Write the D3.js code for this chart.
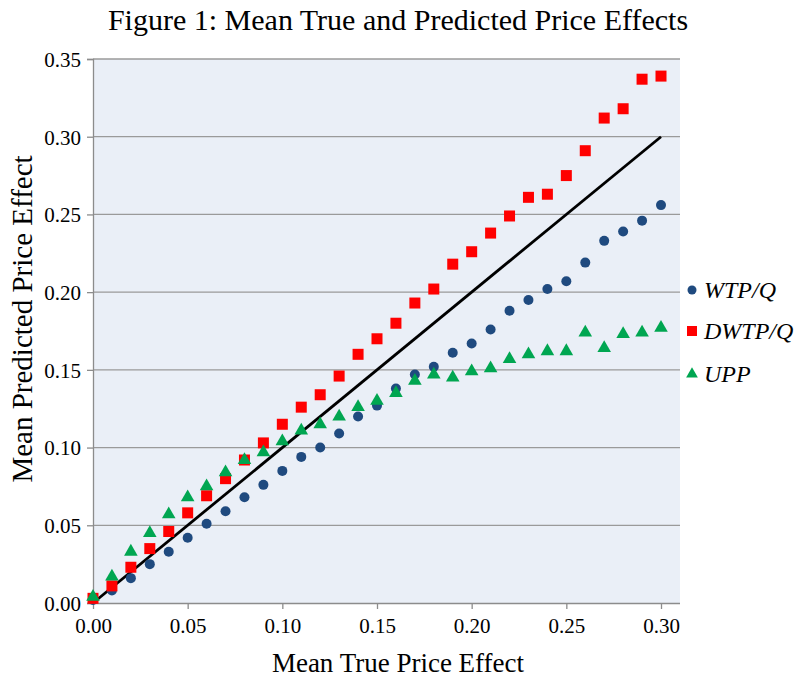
<!DOCTYPE html>
<html lang="en">
<head>
    <meta charset="UTF-8">
    <title>Figure 1: Mean True and Predicted Price Effects</title>
    <script src="https://d3js.org/d3.v7.min.js"></script>
    <style>
        body { margin: 0; background: #fff; }
        text { font-family: "Liberation Serif", "DejaVu Serif", serif; fill: #000; }
    </style>
</head>
<body>
    <svg width="798" height="681"></svg>

    <script>
        // Podaci procitani s grafa
        const trueEffect = [0.00, 0.01, 0.02, 0.03, 0.04, 0.05, 0.06, 0.07, 0.08, 0.09, 0.10,
            0.11, 0.12, 0.13, 0.14, 0.15, 0.16, 0.17, 0.18, 0.19, 0.20,
            0.21, 0.22, 0.23, 0.24, 0.25, 0.26, 0.27, 0.28, 0.29, 0.30];
        const wtpQ = [0.002, 0.008, 0.016, 0.025, 0.033, 0.042, 0.051, 0.059, 0.068, 0.076, 0.085,
            0.094, 0.100, 0.109, 0.120, 0.127, 0.138, 0.147, 0.152, 0.161, 0.167,
            0.176, 0.188, 0.195, 0.202, 0.207, 0.219, 0.233, 0.239, 0.246, 0.256];
        const dwtpQ = [0.003, 0.011, 0.023, 0.035, 0.046, 0.058, 0.069, 0.080, 0.092, 0.103, 0.115,
            0.126, 0.134, 0.146, 0.160, 0.170, 0.180, 0.193, 0.202, 0.218, 0.226,
            0.238, 0.249, 0.261, 0.263, 0.275, 0.291, 0.312, 0.318, 0.337, 0.339];
        const upp = [0.004, 0.017, 0.033, 0.045, 0.057, 0.068, 0.075, 0.084, 0.092, 0.097, 0.104,
            0.111, 0.115, 0.120, 0.126, 0.130, 0.135, 0.143, 0.147, 0.145, 0.149,
            0.151, 0.157, 0.160, 0.162, 0.162, 0.174, 0.164, 0.173, 0.174, 0.177];
        const xTicks = [0, 0.05, 0.10, 0.15, 0.20, 0.25, 0.30];
        const yTicks = [0, 0.05, 0.10, 0.15, 0.20, 0.25, 0.30, 0.35];
        const diagonal = [0, 0.30];

        const margin = { top: 59, right: 118, bottom: 78, left: 93 };
        const width = 798 - margin.left - margin.right;
        const height = 681 - margin.top - margin.bottom;

        const root = d3.select("svg");
        const svg = root.append("g")
            .attr("transform", `translate(${margin.left},${margin.top})`);

        // Skale
        const x = d3.scaleLinear().domain([0, 0.30]).range([0, 568]);
        const y = d3.scaleLinear().domain([0, 0.35]).range([height, 0]);

        // Pozadina
        svg.append("rect")
            .attr("width", width)
            .attr("height", height)
            .attr("fill", "#eaeff7");

        // Mreza
        svg.append("g")
            .selectAll("line")
            .data(yTicks.slice(1))
            .enter()
            .append("line")
            .attr("x1", 0)
            .attr("x2", width)
            .attr("y1", d => y(d))
            .attr("y2", d => y(d))
            .attr("stroke", "#9a9a9a")
            .attr("stroke-width", 1.3);

        // Osi
        const xAxis = svg.append("g")
            .attr("transform", `translate(0,${height})`)
            .call(d3.axisBottom(x).tickValues(xTicks).tickFormat(d3.format(".2f")).tickSize(6).tickPadding(9));
        xAxis.select(".domain").attr("d", `M0,0.5H${width}`);

        const yAxis = svg.append("g")
            .call(d3.axisLeft(y).tickValues(yTicks).tickFormat(d3.format(".2f")).tickSize(6).tickPadding(6));

        svg.selectAll(".domain").attr("stroke", "#8c8c8c").attr("stroke-width", 1.3);
        svg.selectAll(".tick line").attr("stroke", "#8c8c8c").attr("stroke-width", 1.3);
        svg.selectAll(".tick text")
            .style("font-family", "'Liberation Serif', serif")
            .style("font-size", "21px")
            .attr("fill", "#000");
        yAxis.selectAll(".tick text").attr("dy", "0.35em");

        // Dijagonala
        svg.append("line")
            .attr("x1", x(diagonal[0]))
            .attr("y1", y(diagonal[0]))
            .attr("x2", x(diagonal[1]))
            .attr("y2", y(diagonal[1]))
            .attr("stroke", "#000")
            .attr("stroke-width", 2.8);

        // Tocke
        const pts = arr => trueEffect.map((t, i) => ({ t: t, v: arr[i] }));

        svg.append("g")
            .selectAll("circle")
            .data(pts(wtpQ))
            .enter()
            .append("circle")
            .attr("cx", d => x(d.t))
            .attr("cy", d => y(d.v))
            .attr("r", 5)
            .attr("fill", "#1f4a7f");

        svg.append("g")
            .selectAll("rect")
            .data(pts(dwtpQ))
            .enter()
            .append("rect")
            .attr("x", d => x(d.t) - 5.5)
            .attr("y", d => y(d.v) - 5.5)
            .attr("width", 11)
            .attr("height", 11)
            .attr("fill", "#ff0000");

        const tri = d3.symbol().type(d3.symbolTriangle).size(80);
        svg.append("g")
            .selectAll("path")
            .data(pts(upp))
            .enter()
            .append("path")
            .attr("transform", d => `translate(${x(d.t)},${y(d.v)})`)
            .attr("d", tri)
            .attr("fill", "#00a651");

        // Legenda
        const legend = [
            { name: "WTP/Q", shape: "circle", color: "#1f4a7f", yPos: 290 },
            { name: "DWTP/Q", shape: "square", color: "#ff0000", yPos: 331 },
            { name: "UPP", shape: "triangle", color: "#00a651", yPos: 374 }
        ];
        const lg = root.append("g");
        legend.forEach(l => {
            if (l.shape === "circle") {
                lg.append("circle").attr("cx", 692).attr("cy", l.yPos).attr("r", 4.5).attr("fill", l.color);
            } else if (l.shape === "square") {
                lg.append("rect").attr("x", 687).attr("y", l.yPos - 5).attr("width", 10).attr("height", 10).attr("fill", l.color);
            } else {
                lg.append("path").attr("transform", `translate(692,${l.yPos})`)
                    .attr("d", d3.symbol().type(d3.symbolTriangle).size(60)).attr("fill", l.color);
            }
            lg.append("text")
                .attr("x", 704)
                .attr("y", l.yPos + 8)
                .style("font-size", "24px")
                .style("font-style", "italic")
                .text(l.name);
        });

        // Naslovi
        root.append("text")
            .attr("x", 398)
            .attr("y", 30)
            .style("text-anchor", "middle")
            .style("font-size", "30px")
            .text("Figure 1:  Mean True and Predicted Price Effects");

        root.append("text")
            .attr("transform", "rotate(-90)")
            .attr("x", -319)
            .attr("y", 32)
            .style("text-anchor", "middle")
            .style("font-size", "29px")
            .text("Mean Predicted Price Effect");

        root.append("text")
            .attr("x", 398)
            .attr("y", 672)
            .style("text-anchor", "middle")
            .style("font-size", "27px")
            .text("Mean True Price Effect");
    </script>
</body>
</html>
